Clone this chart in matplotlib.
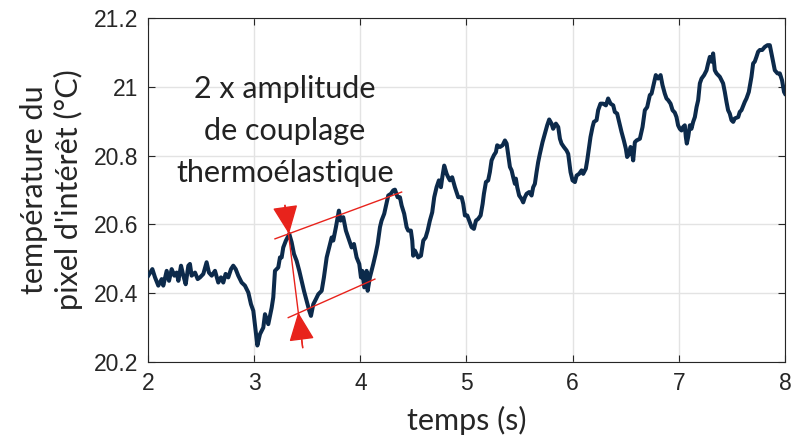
import numpy as np
import matplotlib
matplotlib.use("Agg")
from matplotlib import pyplot as plt

# time (s) and temperature (°C)
temps = [2.003, 2.041, 2.066, 2.097, 2.129, 2.144, 2.176, 2.198, 2.223, 2.248,
         2.270, 2.286, 2.311, 2.333, 2.355, 2.380, 2.395, 2.411, 2.443, 2.468,
         2.490, 2.521, 2.552, 2.574, 2.600, 2.631, 2.662, 2.687, 2.709, 2.731,
         2.756, 2.782, 2.803, 2.826, 2.850, 2.882, 2.913, 2.945, 2.970, 2.992,
         3.030, 3.055, 3.086, 3.102, 3.133, 3.165, 3.180, 3.196, 3.227, 3.243,
         3.259, 3.274, 3.299, 3.331, 3.353, 3.375, 3.400, 3.425, 3.447, 3.469,
         3.494, 3.519, 3.535, 3.557, 3.582, 3.604, 3.636, 3.657, 3.683, 3.707,
         3.730, 3.745, 3.770, 3.798, 3.814, 3.839, 3.864, 3.886, 3.918, 3.940,
         3.965, 3.990, 4.006, 4.018, 4.037, 4.059, 4.069, 4.090, 4.122, 4.144,
         4.163, 4.185, 4.200, 4.225, 4.248, 4.263, 4.288, 4.310, 4.326, 4.351,
         4.373, 4.389, 4.413, 4.436, 4.451, 4.476, 4.489, 4.498, 4.514, 4.530,
         4.545, 4.571, 4.593, 4.615, 4.634, 4.655, 4.677, 4.696, 4.718, 4.740,
         4.759, 4.772, 4.790, 4.813, 4.828, 4.844, 4.865, 4.891, 4.922, 4.954,
         4.969, 4.985, 5.007, 5.025, 5.048, 5.070, 5.089, 5.110, 5.133, 5.152,
         5.164, 5.183, 5.204, 5.220, 5.236, 5.258, 5.277, 5.289, 5.315, 5.340,
         5.362, 5.378, 5.393, 5.409, 5.425, 5.440, 5.456, 5.465, 5.478, 5.496,
         5.519, 5.534, 5.550, 5.566, 5.590, 5.613, 5.628, 5.644, 5.660, 5.675,
         5.691, 5.716, 5.738, 5.760, 5.779, 5.801, 5.816, 5.842, 5.864, 5.880,
         5.895, 5.917, 5.942, 5.958, 5.980, 5.999, 6.021, 6.037, 6.061, 6.084,
         6.099, 6.124, 6.137, 6.155, 6.168, 6.187, 6.200, 6.225, 6.240, 6.262,
         6.287, 6.313, 6.334, 6.357, 6.382, 6.397, 6.419, 6.438, 6.460, 6.482,
         6.501, 6.513, 6.532, 6.545, 6.557, 6.570, 6.586, 6.602, 6.633, 6.658,
         6.680, 6.702, 6.727, 6.743, 6.765, 6.783, 6.805, 6.828, 6.846, 6.868,
         6.884, 6.900, 6.922, 6.941, 6.962, 6.978, 6.993, 7.009, 7.025, 7.040,
         7.056, 7.066, 7.075, 7.088, 7.104, 7.119, 7.135, 7.151, 7.167, 7.182,
         7.198, 7.214, 7.238, 7.261, 7.276, 7.292, 7.308, 7.323, 7.339, 7.355,
         7.386, 7.417, 7.433, 7.449, 7.464, 7.480, 7.496, 7.512, 7.527, 7.559,
         7.574, 7.590, 7.621, 7.637, 7.659, 7.684, 7.700, 7.715, 7.731, 7.747,
         7.763, 7.785, 7.810, 7.835, 7.857, 7.873, 7.888, 7.904, 7.929, 7.951,
         7.972, 7.991, 8.000]

temperature = [20.451, 20.470, 20.446, 20.422, 20.441, 20.422, 20.465, 20.436, 20.470, 20.451,
               20.460, 20.436, 20.480, 20.451, 20.426, 20.480, 20.485, 20.451, 20.460, 20.441,
               20.446, 20.456, 20.490, 20.460, 20.451, 20.465, 20.431, 20.446, 20.431, 20.456,
               20.446, 20.470, 20.480, 20.470, 20.451, 20.431, 20.422, 20.402, 20.368, 20.349,
               20.248, 20.281, 20.300, 20.339, 20.310, 20.358, 20.388, 20.465, 20.475, 20.504,
               20.504, 20.533, 20.553, 20.572, 20.548, 20.514, 20.494, 20.465, 20.436, 20.407,
               20.378, 20.349, 20.334, 20.368, 20.383, 20.397, 20.407, 20.446, 20.504, 20.533,
               20.562, 20.553, 20.592, 20.640, 20.611, 20.621, 20.582, 20.562, 20.533, 20.543,
               20.504, 20.485, 20.446, 20.465, 20.417, 20.465, 20.407, 20.446, 20.485, 20.514,
               20.543, 20.592, 20.611, 20.631, 20.664, 20.684, 20.689, 20.699, 20.701, 20.679,
               20.679, 20.655, 20.631, 20.592, 20.582, 20.582, 20.553, 20.509, 20.524, 20.514,
               20.504, 20.509, 20.553, 20.562, 20.582, 20.611, 20.635, 20.679, 20.708, 20.728,
               20.708, 20.737, 20.771, 20.747, 20.737, 20.728, 20.737, 20.708, 20.679, 20.679,
               20.660, 20.626, 20.626, 20.611, 20.592, 20.587, 20.611, 20.616, 20.626, 20.660,
               20.689, 20.723, 20.728, 20.752, 20.786, 20.801, 20.810, 20.830, 20.825, 20.830,
               20.844, 20.835, 20.801, 20.767, 20.757, 20.737, 20.718, 20.733, 20.708, 20.684,
               20.674, 20.664, 20.679, 20.689, 20.694, 20.684, 20.708, 20.718, 20.752, 20.781,
               20.805, 20.839, 20.864, 20.888, 20.905, 20.893, 20.878, 20.893, 20.883, 20.849,
               20.835, 20.825, 20.815, 20.805, 20.752, 20.728, 20.723, 20.742, 20.747, 20.757,
               20.747, 20.762, 20.786, 20.825, 20.854, 20.883, 20.898, 20.903, 20.932, 20.951,
               20.951, 20.946, 20.966, 20.951, 20.946, 20.927, 20.922, 20.898, 20.869, 20.844,
               20.820, 20.796, 20.805, 20.825, 20.815, 20.786, 20.839, 20.844, 20.849, 20.883,
               20.932, 20.941, 20.976, 20.980, 21.010, 21.034, 21.024, 21.034, 21.005, 20.980,
               20.966, 20.961, 20.951, 20.932, 20.925, 20.912, 20.888, 20.878, 20.873, 20.883,
               20.888, 20.854, 20.835, 20.854, 20.888, 20.878, 20.898, 20.912, 20.941, 20.961,
               21.010, 21.024, 21.034, 21.048, 21.068, 21.087, 21.073, 21.097, 21.048, 21.039,
               21.029, 21.010, 20.985, 20.956, 20.932, 20.922, 20.903, 20.898, 20.908, 20.912,
               20.927, 20.932, 20.956, 20.966, 20.985, 21.029, 21.068, 21.073, 21.087, 21.102,
               21.107, 21.107, 21.116, 21.121, 21.121, 21.097, 21.073, 21.048, 21.039, 21.039,
               21.019, 20.985, 20.980]

# annotation lines: (t0, v0, t1, v1)
upper_env = [3.196, 20.558, 4.389, 20.694]
lower_env = [3.321, 20.329, 4.137, 20.441]
amp_line = [3.290, 20.655, 3.457, 20.242]
amp_tips = [3.328, 20.572, 3.415, 20.344]

xticks = [2, 3, 4, 5, 6, 7, 8]
yticks = [20.2, 20.4, 20.6, 20.8, 21.0, 21.2]
ytick_labels = ["20.2", "20.4", "20.6", "20.8", "21", "21.2"]

label_font = ["Lato", "DejaVu Sans"]
tick_font = ["Liberation Sans Narrow", "Liberation Sans", "DejaVu Sans"]
red = "#e8231c"

fig = plt.figure(figsize=(7.92, 4.41), dpi=100)
ax = fig.add_axes([148 / 792, 1 - 362 / 441, 637 / 792, 344 / 441])

ax.plot(temps, temperature, color="#0c2a4b", lw=2.9, solid_joinstyle="round", zorder=3)

ax.plot(upper_env[0::2], upper_env[1::2], color=red, lw=1.0, zorder=4)
ax.plot(lower_env[0::2], lower_env[1::2], color=red, lw=1.0, zorder=4)
ax.plot(amp_line[0::2], amp_line[1::2], color=red, lw=1.0, zorder=4)
arrow_kw = dict(arrowstyle="-|>,head_length=0.9,head_width=0.4", color=red,
                lw=1.0, mutation_scale=20, shrinkA=0, shrinkB=0)
ax.annotate("", xy=(amp_tips[0], amp_tips[1]), xytext=(amp_line[0], amp_line[1]),
            arrowprops=arrow_kw, zorder=5)
ax.annotate("", xy=(amp_tips[2], amp_tips[3]), xytext=(amp_line[2], amp_line[3]),
            arrowprops=arrow_kw, zorder=5)

ax.text(3.29, 20.871, "2 x amplitude\nde couplage\nthermoélastique", ha="center", va="center",
        fontsize=22, family=label_font, color="#222222", linespacing=1.6)

ax.set_xlim(2, 8)
ax.set_ylim(20.2, 21.2)
ax.set_xticks(xticks)
ax.set_yticks(yticks)
ax.set_yticklabels(ytick_labels)
ax.grid(True, color="#e3e3e3", lw=1.0)
ax.set_axisbelow(True)
ax.tick_params(direction="in", length=5, width=0.8, color="#262626",
               top=True, right=True, labelsize=16.5, pad=7, labelcolor="#262626")
for lab in ax.get_xticklabels() + ax.get_yticklabels():
    lab.set_family(tick_font)
for s in ax.spines.values():
    s.set_color("#262626")
    s.set_linewidth(0.8)

ax.set_xlabel("temps (s)", fontsize=22, family=label_font, color="#262626", labelpad=8)
ax.set_ylabel("température du\npixel d'intérêt (°C)", fontsize=22, family=label_font,
              color="#262626", labelpad=8, linespacing=1.25)

fig.savefig("out.png", dpi=100)
